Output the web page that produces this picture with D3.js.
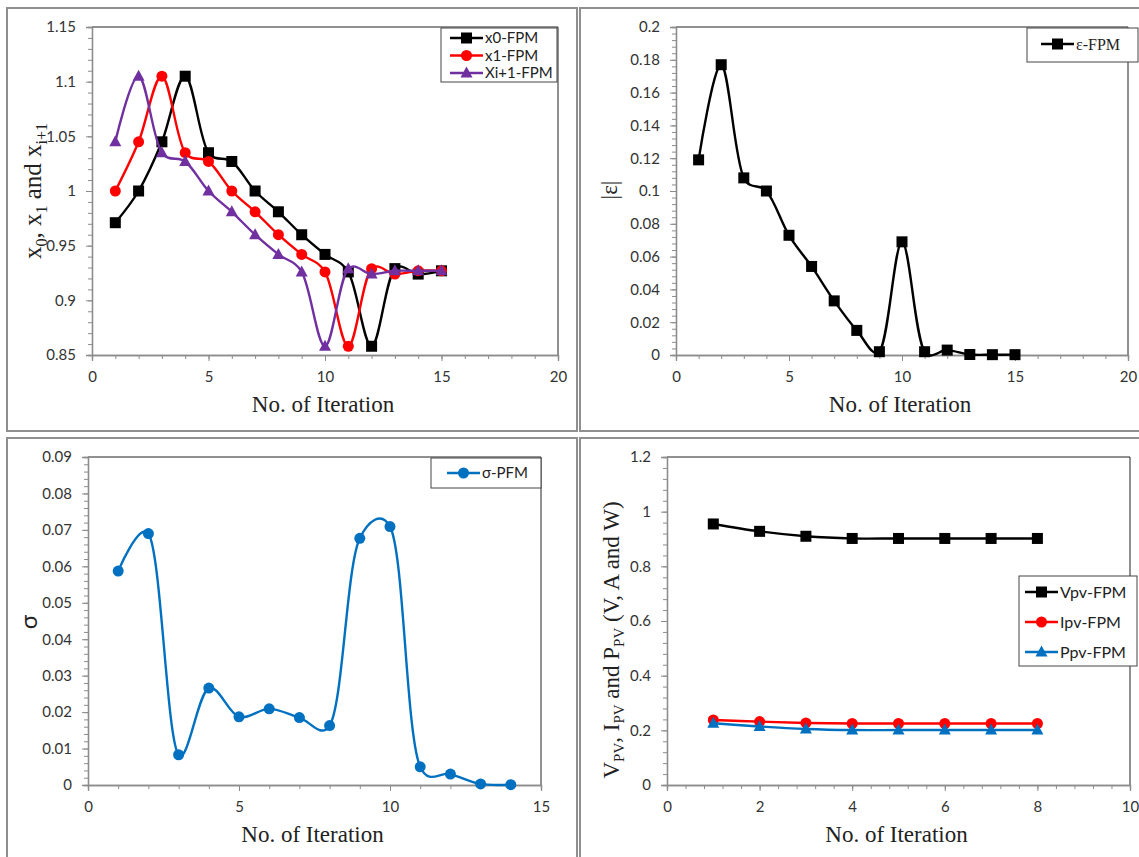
<!DOCTYPE html>
<html>
<head>
<meta charset="utf-8">
<script src="https://cdn.jsdelivr.net/npm/d3@7"></script>
<style>
  body { margin: 0; background: #fff; }
  svg { display: block; }
</style>
</head>
<body>
<svg id="chart" width="1139" height="857"></svg>
<script>
// iteration numbers
const iter15 = d3.range(1, 16);
const iter14 = d3.range(1, 15);
const iter8 = d3.range(1, 9);

// panel 1 - x0, x1, xi+1
const x0FPM = [0.971, 1.0, 1.045, 1.105, 1.035, 1.027, 1.0, 0.981, 0.960, 0.942, 0.926, 0.858, 0.929, 0.924, 0.927];
const x1FPM = [1.0, 1.045, 1.105, 1.035, 1.027, 1.0, 0.981, 0.960, 0.942, 0.926, 0.858, 0.929, 0.924, 0.927, 0.927];
const xi1FPM = [1.045, 1.105, 1.035, 1.027, 1.0, 0.981, 0.960, 0.942, 0.926, 0.858, 0.929, 0.924, 0.927, 0.927, 0.927];

// panel 2 - |eps|
const epsFPM = [0.119, 0.177, 0.108, 0.100, 0.073, 0.054, 0.033, 0.015, 0.002, 0.069, 0.002, 0.003, 0.0003, 0.0002, 0.0002];

// panel 3 - sigma
const sigmaPFM = [0.0587, 0.069, 0.0083, 0.0266, 0.0187, 0.0209, 0.0185, 0.0163, 0.0677, 0.0709, 0.005, 0.003, 0.0003, 0.0001];

// panel 4 - Vpv, Ipv, Ppv
const vpvFPM = [0.955, 0.928, 0.910, 0.902, 0.902, 0.902, 0.902, 0.902];
const ipvFPM = [0.238, 0.232, 0.227, 0.225, 0.225, 0.225, 0.225, 0.225];
const ppvFPM = [0.226, 0.214, 0.205, 0.201, 0.201, 0.201, 0.201, 0.201];

const svg = d3.select("#chart");
const AXIS = "#8c8c8c";
const SANS = "Lato, 'Open Sans', sans-serif";
const SERIF = "'Liberation Serif', 'DejaVu Serif', serif";

// chart area frames
[[7, 8], [580, 8], [7, 438], [580, 438]].forEach(([fx, fy]) => {
  svg.append("rect")
    .attr("x", fx).attr("y", fy)
    .attr("width", 570).attr("height", 423)
    .attr("fill", "none")
    .attr("stroke", "#8f8f8f")
    .attr("stroke-width", 2);
});

function fmt(v) {
  return String(+v.toFixed(5));
}

function step(a, b, s) {
  const out = [];
  const n = Math.round((b - a) / s);
  for (let i = 0; i <= n; i++) out.push(+(a + i * s).toFixed(6));
  return out;
}

function marker(g, shape, color, cx, cy) {
  if (shape === "square") {
    g.append("rect").attr("x", cx - 5.5).attr("y", cy - 5.5)
      .attr("width", 11).attr("height", 11).attr("fill", color);
  } else if (shape === "circle") {
    g.append("circle").attr("cx", cx).attr("cy", cy).attr("r", 5.5).attr("fill", color);
  } else {
    g.append("path")
      .attr("d", `M${cx},${cy - 6.5}L${cx + 6},${cy + 4.5}L${cx - 6},${cy + 4.5}Z`)
      .attr("fill", color);
  }
}

function drawPanel(cfg) {
  const g = svg.append("g");
  const x = d3.scaleLinear().domain(cfg.xDomain).range([cfg.left, cfg.right]);
  const y = d3.scaleLinear().domain(cfg.yDomain).range([cfg.bottom, cfg.top]);

  // plot area border (top / right)
  g.append("path")
    .attr("d", `M${cfg.left},${cfg.top}H${cfg.right}V${cfg.bottom}`)
    .attr("fill", "none").attr("stroke", "#222").attr("stroke-width", 1);

  // minor ticks
  const yMinor = d3.axisLeft(y).tickValues(step(cfg.yDomain[0], cfg.yDomain[1], cfg.yMinor))
    .tickSize(4).tickFormat("");
  const xMinor = d3.axisBottom(x).tickValues(step(cfg.xDomain[0], cfg.xDomain[1], cfg.xMinor))
    .tickSize(4).tickFormat("");
  g.append("g").attr("transform", `translate(${cfg.left},0)`).call(yMinor);
  g.append("g").attr("transform", `translate(0,${cfg.bottom})`).call(xMinor);

  // major ticks
  const yAxis = d3.axisLeft(y).tickValues(step(cfg.yDomain[0], cfg.yDomain[1], cfg.yMajor))
    .tickSize(6).tickPadding(10).tickFormat(fmt);
  const xAxis = d3.axisBottom(x).tickValues(step(cfg.xDomain[0], cfg.xDomain[1], cfg.xMajor))
    .tickSize(6).tickPadding(10).tickFormat(fmt);
  g.append("g").attr("transform", `translate(${cfg.left},0)`).call(yAxis);
  g.append("g").attr("transform", `translate(0,${cfg.bottom})`).call(xAxis);

  g.selectAll(".domain").attr("stroke", AXIS).attr("stroke-width", 1.3);
  g.selectAll(".tick line").attr("stroke", AXIS);
  g.selectAll(".tick text")
    .attr("font-family", SANS).attr("font-size", 15).attr("fill", "#333");

  // series (smoothed like the spreadsheet)
  const line = d3.line()
    .x((d) => x(d[0])).y((d) => y(d[1]))
    .curve(d3.curveCatmullRom.alpha(0.25));
  cfg.series.forEach((s) => {
    const pts = s.x.map((v, i) => [v, s.values[i]]);
    g.append("path").datum(pts)
      .attr("d", line)
      .attr("fill", "none")
      .attr("stroke", s.color)
      .attr("stroke-width", 2.4);
    pts.forEach((p) => marker(g, s.shape, s.color, x(p[0]), y(p[1])));
  });

  // x title
  g.append("text")
    .attr("x", (cfg.left + cfg.right) / 2 - 2)
    .attr("y", cfg.bottom + 57)
    .attr("text-anchor", "middle")
    .attr("font-family", SERIF).attr("font-size", 23).attr("fill", "#222")
    .text("No. of Iteration");

  // legend
  const lg = cfg.legend;
  g.append("rect")
    .attr("x", lg.x).attr("y", lg.y).attr("width", lg.w).attr("height", lg.h)
    .attr("fill", "#fff").attr("stroke", "#444").attr("stroke-width", 1);
  cfg.series.forEach((s, i) => {
    const ly = lg.y + lg.first + i * lg.gap;
    g.append("line")
      .attr("x1", lg.x + lg.pad).attr("x2", lg.x + lg.pad + 33)
      .attr("y1", ly).attr("y2", ly)
      .attr("stroke", s.color).attr("stroke-width", 2.4);
    marker(g, s.shape, s.color, lg.x + lg.pad + 16.5, ly);
    g.append("text")
      .attr("x", lg.x + lg.pad + 35).attr("y", ly)
      .attr("dy", "0.35em")
      .attr("font-family", lg.font).attr("font-size", lg.size).attr("fill", "#222")
      .text(s.name);
  });

  return g;
}

// panel 1
const p1 = drawPanel({
  xDomain: [0, 20], xMajor: 5, xMinor: 1,
  yDomain: [0.85, 1.15], yMajor: 0.05, yMinor: 0.01,
  left: 92, right: 558, top: 27, bottom: 355,
  series: [
    { name: "x0-FPM", x: iter15, values: x0FPM, color: "#000000", shape: "square" },
    { name: "x1-FPM", x: iter15, values: x1FPM, color: "#ff0000", shape: "circle" },
    { name: "Xi+1-FPM", x: iter15, values: xi1FPM, color: "#7030a0", shape: "triangle" }
  ],
  legend: { x: 441, y: 28, w: 116, h: 54, pad: 9, first: 10, gap: 17.5, font: SANS, size: 15 }
});
const t1 = p1.append("text")
  .attr("transform", "translate(41,191) rotate(-90)")
  .attr("text-anchor", "middle")
  .attr("font-family", SERIF).attr("font-size", 25).attr("fill", "#222");
t1.append("tspan").text("x");
t1.append("tspan").attr("font-size", 16).attr("dy", 6).text("0");
t1.append("tspan").attr("dy", -6).text(", x");
t1.append("tspan").attr("font-size", 16).attr("dy", 6).text("1");
t1.append("tspan").attr("dy", -6).text(" and x");
t1.append("tspan").attr("font-size", 16).attr("dy", 6).text("i+1");

// panel 2
const p2 = drawPanel({
  xDomain: [0, 20], xMajor: 5, xMinor: 1,
  yDomain: [0, 0.2], yMajor: 0.02, yMinor: 0.004,
  left: 676, right: 1128, top: 27, bottom: 355,
  series: [
    { name: "\u03b5-FPM", x: iter15, values: epsFPM, color: "#000000", shape: "square" }
  ],
  legend: { x: 1027, y: 28, w: 111, h: 34, pad: 14, first: 16, gap: 0, font: SERIF, size: 16 }
});
p2.append("text")
  .attr("transform", "translate(617,190) rotate(-90)")
  .attr("text-anchor", "middle")
  .attr("font-family", SERIF).attr("font-size", 23).attr("fill", "#222")
  .text("|\u03b5|");

// panel 3
const p3 = drawPanel({
  xDomain: [0, 15], xMajor: 5, xMinor: 1,
  yDomain: [0, 0.09], yMajor: 0.01, yMinor: 0.002,
  left: 88, right: 541, top: 457, bottom: 785,
  series: [
    { name: "\u03c3-PFM", x: iter14, values: sigmaPFM, color: "#0070c0", shape: "circle" }
  ],
  legend: { x: 431, y: 458, w: 110, h: 30, pad: 16, first: 15, gap: 0, font: SANS, size: 15 }
});
p3.append("text")
  .attr("transform", "translate(37,622) rotate(-90)")
  .attr("text-anchor", "middle")
  .attr("font-family", SANS).attr("font-size", 24).attr("fill", "#222")
  .text("\u03c3");

// panel 4
const p4 = drawPanel({
  xDomain: [0, 10], xMajor: 2, xMinor: 0.4,
  yDomain: [0, 1.2], yMajor: 0.2, yMinor: 0.04,
  left: 667, right: 1130, top: 457, bottom: 785,
  series: [
    { name: "Vpv-FPM", x: iter8, values: vpvFPM, color: "#000000", shape: "square" },
    { name: "Ipv-FPM", x: iter8, values: ipvFPM, color: "#ff0000", shape: "circle" },
    { name: "Ppv-FPM", x: iter8, values: ppvFPM, color: "#0070c0", shape: "triangle" }
  ],
  legend: { x: 1019, y: 576, w: 118, h: 90, pad: 6, first: 16, gap: 30, font: SANS, size: 16 }
});
const t4 = p4.append("text")
  .attr("transform", "translate(619,640) rotate(-90)")
  .attr("text-anchor", "middle")
  .attr("font-family", SERIF).attr("font-size", 23).attr("fill", "#222");
t4.append("tspan").text("V");
t4.append("tspan").attr("font-size", 15).attr("dy", 5).text("PV");
t4.append("tspan").attr("dy", -5).text(", I");
t4.append("tspan").attr("font-size", 15).attr("dy", 5).text("PV");
t4.append("tspan").attr("dy", -5).text(" and P");
t4.append("tspan").attr("font-size", 15).attr("dy", 5).text("PV");
t4.append("tspan").attr("dy", -5).text(" (V, A and W)");
</script>
</body>
</html>
